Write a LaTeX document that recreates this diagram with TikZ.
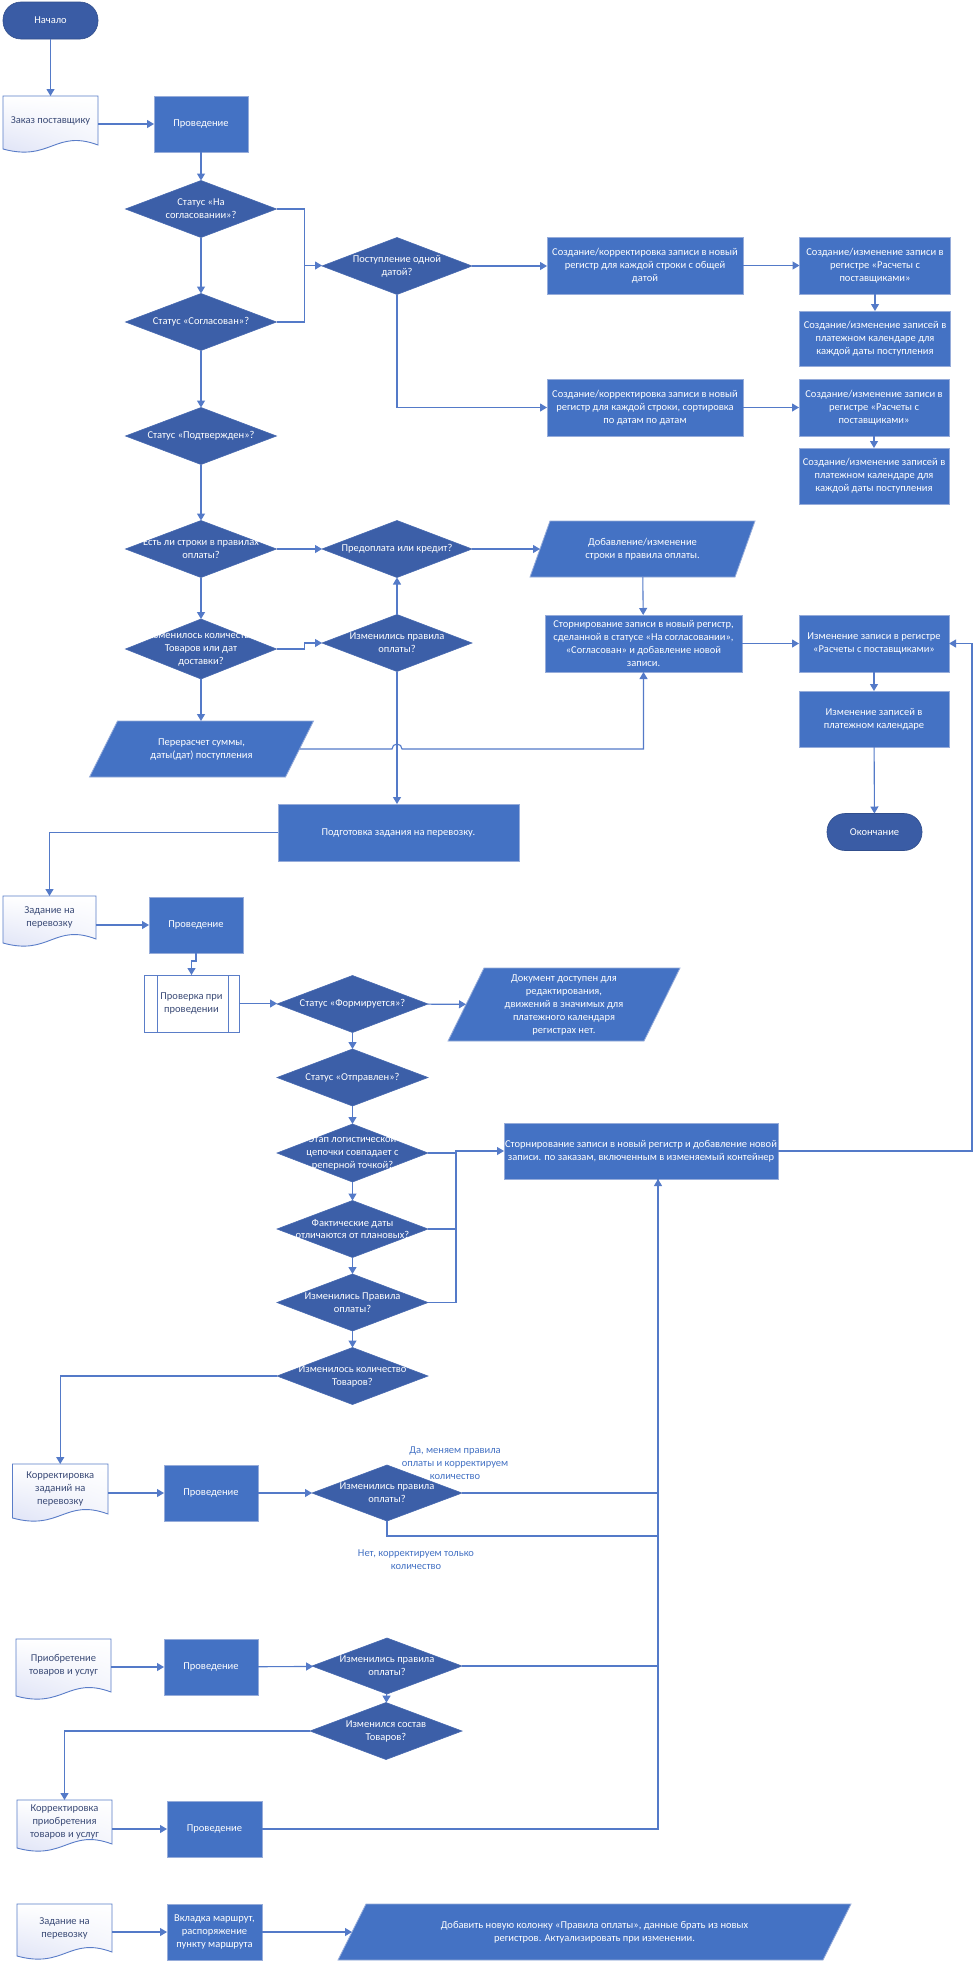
\documentclass[tikz,border=0pt]{standalone}
\usepackage{fontspec}
\setmainfont{Carlito}
\usetikzlibrary{arrows.meta,shapes.geometric,calc,shadings}
\definecolor{boxfill}{RGB}{68,114,196}
\definecolor{boxedge}{RGB}{150,172,218}
\definecolor{decfill}{RGB}{60,95,168}
\definecolor{decedge}{RGB}{72,106,176}
\definecolor{termfill}{RGB}{58,92,165}
\definecolor{linec}{RGB}{84,122,200}
\definecolor{doctext}{RGB}{58,74,118}
\definecolor{docl}{RGB}{218,223,245}
\definecolor{docedge}{RGB}{90,125,200}
\newcommand\myfs{\fontsize{10.5}{13}\selectfont}
% document shape: name, x1, y1, x2, ybottom, text
\newcommand\docbox[6]{%
  \shadedraw[upper left=white,upper right=white,lower left=docl,lower right=docl!40!white,draw=docedge,line width=0.9pt]
    (#2,#3) -- (#4,#3) -- (#4,#5-8) .. controls ({#2+0.55*(#4-#2)},#5-24) and ({#2+0.5*(#4-#2)},#5+9) .. (#2,#5-4) -- cycle;
  \node[doctxt,minimum width={#4-#2},minimum height={#5-8-#3}] (#1) at ({(#2+#4)/2},{(#3+#5-8)/2}) {#6};}
% parallelogram: name, cx, cy, mid width, height, slant, text
\newcommand\parabox[7]{%
  \filldraw[fill=boxfill,draw=boxedge,line width=0.8pt]
    ({#2-#4/2+#6/2},{#3-#5/2}) -- ({#2+#4/2+#6/2},{#3-#5/2}) -- ({#2+#4/2-#6/2},{#3+#5/2}) -- ({#2-#4/2-#6/2},{#3+#5/2}) -- cycle;
  \node[base,text=white,minimum width=#4,minimum height=#5] (#1) at (#2,#3) {#7};}
\begin{document}
\begin{tikzpicture}[x=1pt,y=-1pt,
  base/.style={font=\myfs,align=center,inner sep=0pt,outer sep=0pt},
  proc/.style={base,rectangle,fill=boxfill,draw=boxedge,line width=0.8pt,text=white},
  dec/.style={diamond,fill=decfill,draw=decedge,line width=0.6pt,inner sep=0pt,outer sep=0pt,minimum width=151,minimum height=57},
  dtxt/.style={base,text=white},
  term/.style={base,rectangle,rounded corners=18pt,fill=termfill,draw=termfill!85!black,line width=0.6pt,text=white,minimum width=95,minimum height=37},
  doctxt/.style={base,text=doctext},
  subr/.style={base,rectangle,fill=white,draw=docedge,line width=0.9pt,text=doctext},
  ln/.style={draw=linec,line width=1.1pt},
  conn/.style={ln,-{Triangle[length=7pt,width=8pt]}},
  lbl/.style={base,text=boxfill},
]
\useasboundingbox (0,0) rectangle (979,1962);
\fill[white] (0,0) rectangle (979,1962);

% ---------- top part ----------
\node[term] (start) at (50.5,20.5) {Начало};
\docbox{doc1}{3}{96}{98}{153}{Заказ поставщику}
\node[proc,minimum width=94,minimum height=56] (p1) at (201,124) {Проведение};
\node[dec] (d1) at (201,209) {};
\node[dtxt] (d1t) at (d1) {Статус «На\\согласовании»?};
\node[dec] (d2) at (201,322) {};
\node[dtxt] (d2t) at (d2) {Статус «Согласован»?};
\node[dec,minimum width=150] (d3) at (397,266) {};
\node[dtxt] (d3t) at (d3) {Поступление одной\\датой?};
\node[proc,minimum width=196,minimum height=57] (a) at (645,265.5) {Создание/корректировка записи в новый\\регистр для каждой строки с общей\\датой};
\node[proc,minimum width=151,minimum height=57] (c) at (875,265.5) {Создание/изменение записи в\\регистре «Расчеты с\\поставщиками»};
\node[proc,minimum width=151,minimum height=55] (dd) at (875,338.5) {Создание/изменение записей в\\платежном календаре для\\каждой даты поступления};
\node[proc,minimum width=196,minimum height=57] (b) at (645,407.5) {Создание/корректировка записи в новый\\регистр для каждой строки, сортировка\\по датам по датам};
\node[proc,minimum width=150,minimum height=57] (e) at (874,407.5) {Создание/изменение записи в\\регистре «Расчеты с\\поставщиками»};
\node[proc,minimum width=150,minimum height=56] (f) at (874,476) {Создание/изменение записей в\\платежном календаре для\\каждой даты поступления};

\node[dec] (d4) at (201,436) {};
\node[dtxt] (d4t) at (d4) {Статус «Подтвержден»?};
\node[dec] (d5) at (201,549) {};
\node[dtxt] (d5t) at (d5) {Есть ли строки в правилах\\оплаты?};
\node[dec,minimum width=150] (d6) at (397,549) {};
\node[dtxt] (d6t) at (d6) {Предоплата или кредит?};
\node[dec,minimum height=60] (d7) at (201,649) {};
\node[dtxt] (d7t) at (d7) {Изменилось количество\\Товаров или дат\\доставки?};
\node[dec,minimum width=150] (d8) at (397,643) {};
\node[dtxt] (d8t) at (d8) {Изменились правила\\оплаты?};
\parabox{pa}{642.5}{549}{205}{56}{20}{Добавление/изменение\\строки в правила оплаты.}
\node[proc,minimum width=197,minimum height=57] (g) at (643.5,643.5) {Сторнирование записи в новый регистр,\\сделанной в статусе «На согласовании»,\\«Согласован» и добавление новой\\записи.};
\node[proc,minimum width=150,minimum height=57] (h) at (874,643.5) {Изменение записи в регистре\\«Расчеты с поставщиками»};
\node[proc,minimum width=150,minimum height=56] (i) at (874,719) {Изменение записей в\\платежном календаре};
\node[term] (end) at (874.5,832) {Окончание};
\parabox{pr}{201.5}{749}{196}{56}{28}{Перерасчет суммы,\\даты(дат) поступления};
\node[proc,minimum width=241,minimum height=57] (s) at (398.5,832.5) {Подготовка задания на перевозку.};

% ---------- transport task ----------
\docbox{doc2}{3}{896}{96}{947}{Задание на\\перевозку}
\node[proc,minimum width=94,minimum height=56] (p2) at (196,925) {Проведение};
\node[subr,minimum width=95,minimum height=57] (sub) at (191.5,1003.5) {Проверка при\\проведении};
\draw[draw=docedge,line width=0.9pt] ($(sub.north west)+(13,0)$) -- ($(sub.south west)+(13,0)$);
\draw[draw=docedge,line width=0.9pt] ($(sub.north east)+(-11,0)$) -- ($(sub.south east)+(-11,0)$);
\node[dec] (d9) at (352.5,1004) {};
\node[dtxt] (d9t) at (d9) {Статус «Формируется»?};
\parabox{q}{564}{1004.5}{196}{73}{36}{Документ доступен для\\редактирования,\\движений в значимых для\\платежного календаря\\регистрах нет.}
\node[dec] (d10) at (352.5,1077.5) {};
\node[dtxt] (d10t) at (d10) {Статус «Отправлен»?};
\node[dec,minimum height=58] (d11) at (352.5,1153) {};
\node[dtxt] (d11t) at (d11) {Этап логистической\\цепочки совпадает с\\реперной точкой?};
\node[proc,minimum width=274,minimum height=56] (t) at (641,1151) {Сторнирование записи в новый регистр и добавление новой\\записи. по заказам, включенным в изменяемый контейнер};
\node[dec] (d12) at (352.5,1229) {};
\node[dtxt] (d12t) at (d12) {Фактические даты\\отличаются от плановых?};
\node[dec] (d13) at (352.5,1302.5) {};
\node[dtxt] (d13t) at (d13) {Изменились Правила\\оплаты?};
\node[dec] (d14) at (352.5,1376) {};
\node[dtxt] (d14t) at (d14) {Изменилось количество\\Товаров?};

% ---------- corrections ----------
\docbox{doc3}{12.5}{1464}{108}{1522}{Корректировка\\заданий на\\перевозку}
\node[proc,minimum width=94,minimum height=56] (p3) at (211,1493) {Проведение};
\node[dec,minimum width=150,minimum height=56] (d15) at (387,1493) {};
\node[dtxt] (d15t) at (d15) {Изменились правила\\оплаты?};
\node[lbl] (l1) at (455,1463) {Да, меняем правила\\оплаты и корректируем\\количество};
\node[lbl] (l2) at (416,1560) {Нет, корректируем только\\количество};

\docbox{doc4}{16}{1639}{111}{1700}{Приобретение\\товаров и услуг}
\node[proc,minimum width=94,minimum height=56] (p4) at (211,1667) {Проведение};
\node[dec,minimum width=150,minimum height=56] (d16) at (387,1666) {};
\node[dtxt] (d16t) at (d16) {Изменились правила\\оплаты?};
\node[dec,minimum width=152,minimum height=57] (d17) at (386,1731) {};
\node[dtxt] (d17t) at (d17) {Изменился состав\\Товаров?};

\docbox{doc5}{17}{1800}{112}{1852}{Корректировка\\приобретения\\товаров и услуг}
\node[proc,minimum width=95,minimum height=56] (p5) at (214.5,1829) {Проведение};

\docbox{doc6}{17}{1904}{112}{1960}{Задание на\\перевозку}
\node[proc,minimum width=95,minimum height=56] (p6) at (214.5,1932) {Вкладка маршрут,\\распоряжение\\пункту маршрута};
\parabox{w}{594.5}{1932}{485}{56}{28}{Добавить новую колонку «Правила оплаты», данные брать из новых\\регистров. Актуализировать при изменении.}

% ---------- connectors ----------
\draw[conn] (start.south) -- (doc1.north);
\draw[conn] (doc1.east |- p1.west) -- (p1.west);
\draw[conn] (p1) -- (d1);
\draw[conn] (d1) -- (d2);
\draw[ln] (d1.east) -- ++(28,0) |- (d2.east);
\coordinate (j1) at ($(d1.east)!0.5!(d2.east)+(28,0)$);
\draw[conn] (j1) -- (j1 -| d3.west);
\draw[conn] (d3.east) -- (d3.east -| a.west);
\draw[conn] (a) -- (c);
\draw[conn] (c) -- (dd);
\draw[conn] (d3.south) |- (b.west);
\draw[conn] (b) -- (e);
\draw[conn] (e) -- (f);
\draw[conn] (d2) -- (d4);
\draw[conn] (d4) -- (d5);
\draw[conn] (d5) -- (d6);
\draw[conn] (d5) -- (d7);
\draw[conn] (d6) -- (pa);
\draw[conn] (pa) -- (g);
\draw[conn] (d7.east) -- ++(28,0) |- (d8.west);
\draw[conn] (d8) -- (d6);
\draw[conn] (d7) -- (d7 |- pr.north);
\draw[conn] (pr.east) -- ($(d8.south |- pr.east)+(-5,0)$) arc[start angle=180,end angle=360,radius=5] -- (g.south |- pr.east) -- (g.south);
\draw[conn] (g) -- (h);
\draw[conn] (h) -- (i);
\draw[conn] (i) -- (end);
\draw[conn] (d8.south) -- (d8.south |- s.north);
\draw[conn] (s.west) -| (doc2.north);
\draw[conn] (doc2.east |- p2.west) -- (p2.west);
\draw[conn] (p2.south) -- ++(0,8) -| (sub.north);
\draw[conn] (sub.east) -- (sub.east -| d9.west);
\draw[conn] (d9) -- (q);
\draw[conn] (d9) -- (d10);
\draw[conn] (d10) -- (d11);
\draw[conn] (d11) -- (d12);
\draw[conn] (d12) -- (d13);
\draw[conn] (d13) -- (d14);
\coordinate (j2) at ($(d11.east)+(28,0)$);
\draw[conn] (d11.east) -- (j2) |- (t.west);
\draw[ln] (d12.east) -| (j2);
\draw[ln] (d13.east) -| (j2);
\draw[conn] (t.east) -- ++(194,0) |- (h.east);
\draw[conn] (d14.west) -| (doc3.north);
\draw[conn] (doc3.east |- p3.west) -- (p3.west);
\draw[conn] (p3) -- (d15);
\coordinate (tin) at ($(t.south)+(17,0)$);
\draw[ln] (d15.east) -- (d15.east -| tin);
\draw[ln] (d15.south) -- ++(0,15) -| (tin);
\draw[ln] (d16.east) -- (d16.east -| tin);
\draw[conn] (doc4.east |- p4.west) -- (p4.west);
\draw[conn] (p4) -- (d16);
\draw[conn] (d16) -- (d17);
\draw[conn] (d17.west) -| (doc5.north);
\draw[conn] (doc5.east |- p5.west) -- (p5.west);
\draw[conn] (p5.east) -| (tin);
\draw[conn] (doc6.east |- p6.west) -- (p6.west);
\draw[conn] (p6) -- (w);
\end{tikzpicture}
\end{document}
